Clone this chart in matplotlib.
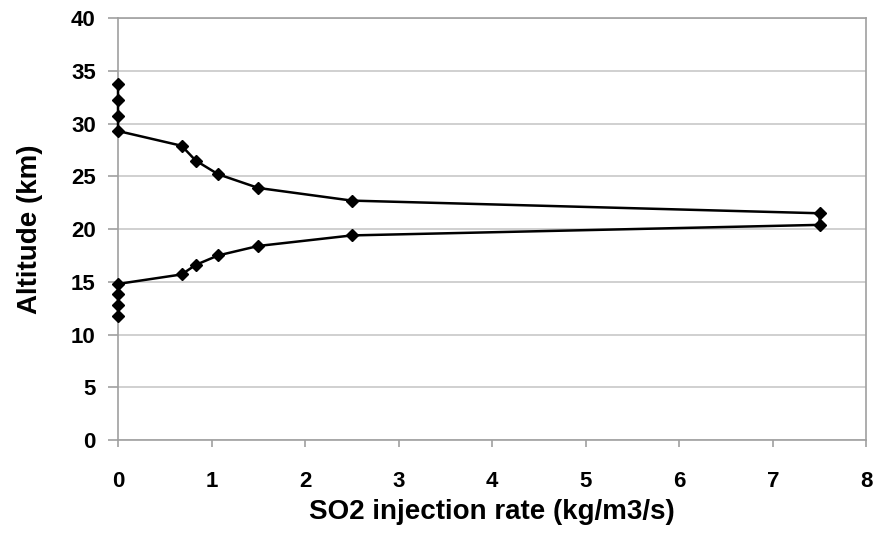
import matplotlib
matplotlib.use("Agg")
import matplotlib.pyplot as plt

plt.rcParams['font.family'] = ['Liberation Sans', 'DejaVu Sans']

# one continuous curve: top branch down the axis, out to 7.5, back along the bottom branch
rate = [0, 0, 0, 0, 0.68, 0.83, 1.07, 1.5, 2.5, 7.5,
        7.5, 2.5, 1.5, 1.07, 0.83, 0.68, 0, 0, 0, 0]
altitude = [33.8, 32.2, 30.7, 29.3, 27.9, 26.5, 25.2, 23.9, 22.7, 21.5,
            20.4, 19.4, 18.4, 17.5, 16.6, 15.7, 14.8, 13.8, 12.8, 11.75]

fig = plt.figure(figsize=(8.84, 5.34), dpi=100)
ax = fig.add_axes([0.1335, 0.176, 0.8465, 0.79])

ax.plot(rate, altitude, color='black', lw=1.8, marker='D', ms=6, clip_on=False, zorder=3)

ax.set_xlim(0, 8)
ax.set_ylim(0, 40)
ax.set_xticks(range(0, 9))
ax.set_yticks(range(0, 41, 5))
ax.yaxis.grid(True, color='#c8c8c8', lw=1.2)
ax.set_axisbelow(True)
for s in ax.spines.values():
    s.set_color('#a0a0a0')
    s.set_linewidth(1.2)
ax.tick_params(direction='out', color='#a0a0a0', width=1.2, labelsize=16)
ax.tick_params(axis='y', length=7, pad=9)
ax.tick_params(axis='x', length=5, pad=17)
for lab in ax.get_xticklabels() + ax.get_yticklabels():
    lab.set_fontweight('bold')

ax.set_xlabel('SO2 injection rate (kg/m3/s)', fontsize=20, fontweight='bold', va='center')
ax.set_ylabel('Altitude (km)', fontsize=20, fontweight='bold', va='center')
ax.xaxis.set_label_coords(0.5, -0.171)
ax.yaxis.set_label_coords(-0.118, 0.5)

fig.savefig('out.png', dpi=100)
